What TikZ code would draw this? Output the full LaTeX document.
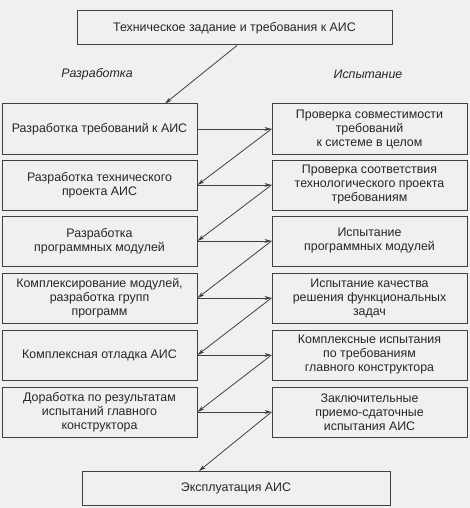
\documentclass[tikz,border=0pt]{standalone}
\usepackage{fontspec}
\setmainfont{Liberation Sans}
\usetikzlibrary{arrows.meta, positioning, calc}
\tikzset{
  blk/.style={draw=black!75, line width=1pt, minimum width=195pt, minimum height=50pt, inner sep=2pt, align=center, text=black!85, font=\fontsize{12.4}{14}\selectfont},
  wideblk/.style={blk, minimum height=34pt},
  flw/.style={-{Stealth[length=7pt, width=4pt]}, draw=black!75, line width=0.8pt},
  phase/.style={text=black!85, font=\itshape\fontsize{12.4}{14}\selectfont}
}
\begin{document}
\begin{tikzpicture}[x=1pt, y=-1pt]
	\fill[black!6] (0,0) rectangle (470,508);
	\node[wideblk, minimum width=315pt] (tz) at (234.5,28) {Техническое задание и требования к АИС};
	\node[phase] (dev) at (97,74) {Разработка};
	\node[phase] (tst) at (368,74) {Испытание};
	% development column
	\node[blk] (l1) at (99.5,129) {Разработка требований к АИС};
	\node[blk] (l2) at (99.5,185) {Разработка технического\\проекта АИС};
	\node[blk] (l3) at (99.5,241) {Разработка\\программных модулей};
	\node[blk] (l4) at (99.5,298) {Комплексирование модулей,\\разработка групп\\программ};
	\node[blk] (l5) at (99.5,355) {Комплексная отладка АИС};
	\node[blk] (l6) at (99.5,412) {Доработка по результатам\\испытаний главного\\конструктора};
	% testing column
	\node[blk] (r1) at (369.5,129) {Проверка совместимости\\требований\\к системе в целом};
	\node[blk] (r2) at (369.5,185) {Проверка соответствия\\технологического проекта\\требованиям};
	\node[blk] (r3) at (369.5,241) {Испытание\\программных модулей};
	\node[blk] (r4) at (369.5,298) {Испытание качества\\решения функциональных\\задач};
	\node[blk] (r5) at (369.5,355) {Комплексные испытания\\по требованиям\\главного конструктора};
	\node[blk] (r6) at (369.5,412) {Заключительные\\приемо-сдаточные\\испытания АИС};
	\node[wideblk, minimum width=308pt] (expl) at (236,488.5) {Эксплуатация АИС};
	\draw[flw] ($(tz.south)+(2.5,0)$) -- ($(l1.north)+(65.5,0)$);
	\foreach \i/\j in {1/2, 2/3, 3/4, 4/5, 5/6} {
		\draw[flw] (l\i.east) -- (r\i.west);
		\draw[flw] (r\i.west) -- (l\j.east);
	}
	\draw[flw] (l6.east) -- (r6.west);
	\draw[flw] (r6.west) -- ($(expl.north)+(-37,0)$);
\end{tikzpicture}
\end{document}
